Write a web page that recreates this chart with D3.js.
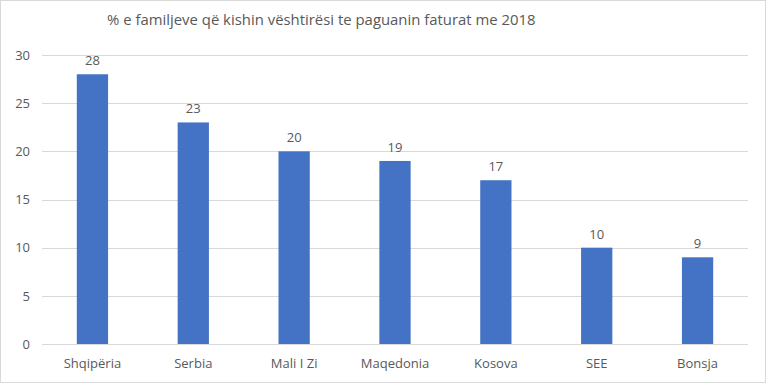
<!DOCTYPE html>
<html>
<head>
<meta charset="utf-8">
<script src="https://cdn.jsdelivr.net/npm/d3@7"></script>
<style>
  body { margin: 0; background: #fff; }
  text { font-family: "Open Sans", "Liberation Sans", sans-serif; fill: #595959; }
</style>
</head>
<body>
<svg width="768" height="385"></svg>
<script>
var categories = ["Shqipëria", "Serbia", "Mali I Zi", "Maqedonia", "Kosova", "SEE", "Bonsja"];
var values = [28, 23, 20, 19, 17, 10, 9];
var yTicks = [0, 5, 10, 15, 20, 25, 30];
var title = "% e familjeve që kishin vështirësi te paguanin faturat me 2018";

var svg = d3.select("svg");
var width = +svg.attr("width"),
    height = +svg.attr("height");

// outer chart border
svg.append("rect")
    .attr("x", 0.5).attr("y", 0.5)
    .attr("width", width - 3).attr("height", height - 3)
    .attr("fill", "#fff")
    .attr("stroke", "#d9d9d9");

var plotLeft = 42, plotRight = 748, plotTop = 55, plotBottom = 344;

var x = d3.scaleBand()
    .domain(categories)
    .range([plotLeft, plotRight])
    .paddingInner(0.69)
    .paddingOuter(0.345);

var y = d3.scaleLinear()
    .domain([0, 30])
    .range([plotBottom, plotTop]);

// gridlines
svg.append("g")
  .selectAll("line")
  .data(yTicks)
  .enter().append("line")
    .attr("x1", plotLeft).attr("x2", plotRight)
    .attr("y1", function(d) { return Math.round(y(d)) + 0.5; })
    .attr("y2", function(d) { return Math.round(y(d)) + 0.5; })
    .attr("stroke", "#d9d9d9");

// y axis labels
var yAxis = svg.append("g")
    .attr("transform", "translate(" + (plotLeft - 12) + ",0)")
    .call(d3.axisLeft(y).tickValues(yTicks).tickSize(0).tickPadding(0));
yAxis.select(".domain").remove();
yAxis.selectAll("text")
    .style("font-size", "13px")
    .style("font-family", "'Open Sans', sans-serif")
    .attr("fill", "#595959");

// bars
svg.append("g")
  .selectAll("rect")
  .data(values)
  .enter().append("rect")
    .attr("x", function(d, i) { return x(categories[i]); })
    .attr("width", x.bandwidth())
    .attr("y", function(d) { return y(d); })
    .attr("height", function(d) { return y(0) - y(d); })
    .attr("fill", "#4472c4");

// value labels
svg.append("g")
  .selectAll("text")
  .data(values)
  .enter().append("text")
    .attr("x", function(d, i) { return x(categories[i]) + x.bandwidth() / 2; })
    .attr("y", function(d) { return y(d) - 9; })
    .attr("text-anchor", "middle")
    .style("font-size", "13px")
    .text(function(d) { return d; });

// category labels
var xAxis = svg.append("g")
    .attr("transform", "translate(0," + (plotBottom + 12) + ")")
    .call(d3.axisBottom(x).tickSize(0).tickPadding(3));
xAxis.select(".domain").remove();
xAxis.selectAll("text")
    .style("font-size", "13px")
    .style("font-family", "'Open Sans', sans-serif")
    .attr("fill", "#595959");

// title
svg.append("text")
    .attr("x", 107)
    .attr("y", 25)
    .style("font-size", "14.9px")
    .text(title);
</script>
</body>
</html>
